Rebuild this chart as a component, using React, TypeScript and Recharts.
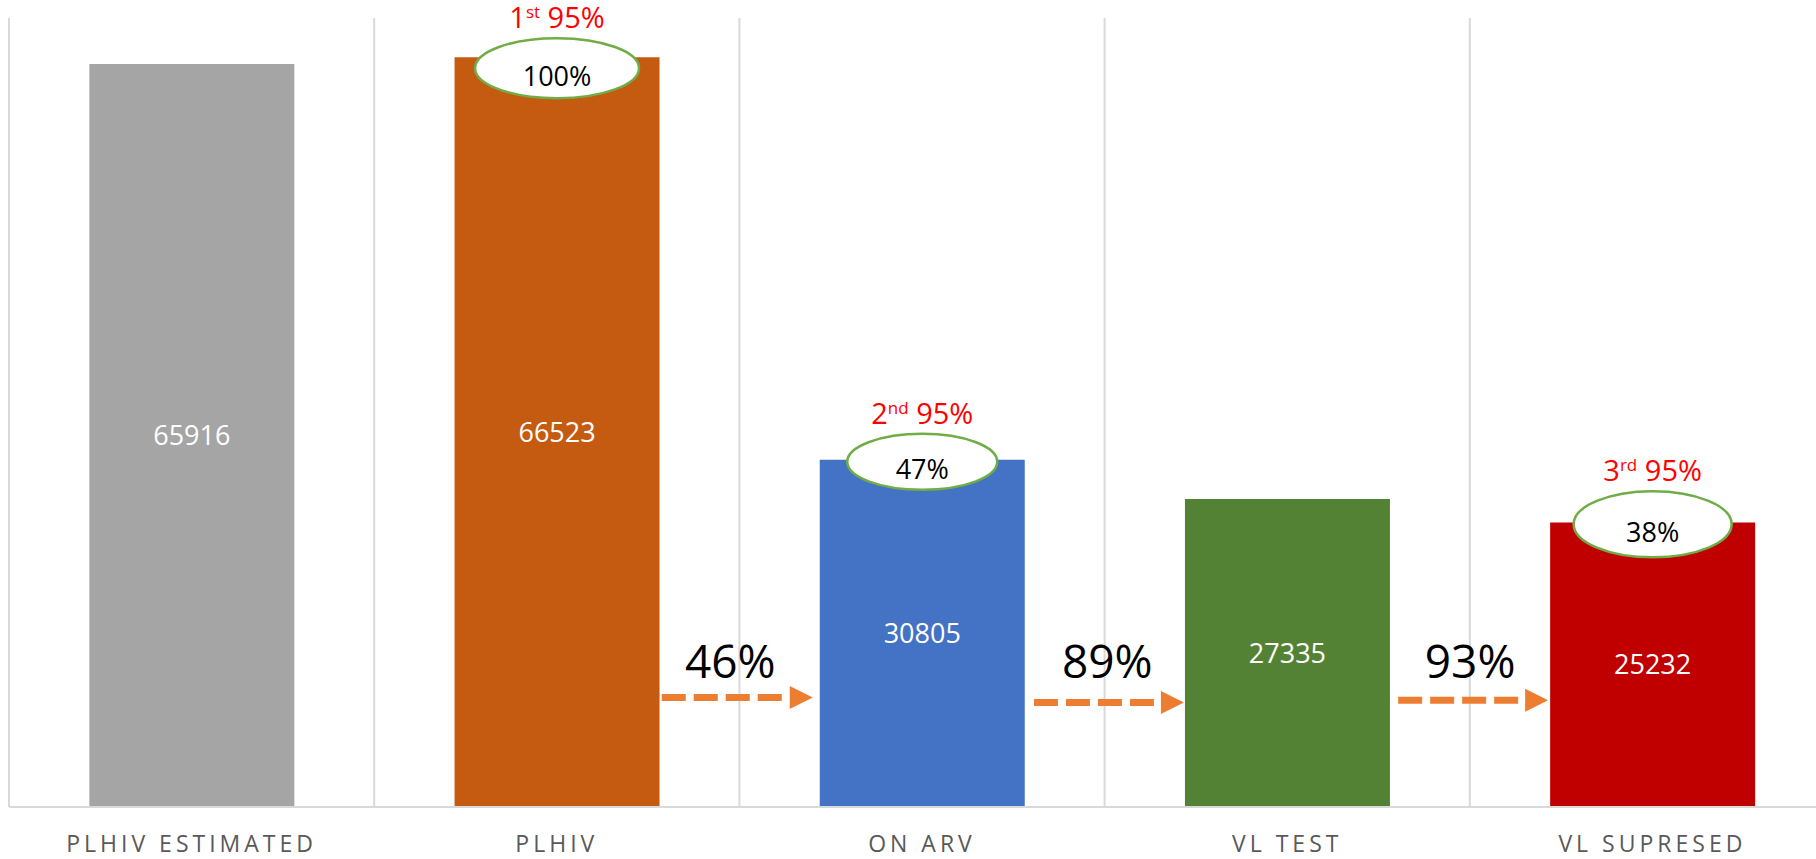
import React from 'react';
import { BarChart, Bar, XAxis, YAxis, CartesianGrid, Cell, LabelList } from 'recharts';

const categories = ['PLHIV ESTIMATED', 'PLHIV', 'ON ARV', 'VL TEST', 'VL SUPRESED'];
const counts = [65916, 66523, 30805, 27335, 25232];
const coverage = ['', '100%', '47%', '', '38%'];
const targetNumber = ['', '1', '2', '', '3'];
const targetSuffix = ['', 'st', 'nd', '', 'rd'];
const stepRates = ['', '', '46%', '89%', '93%'];
const yTicks = [0, 70000];

// styling per bar (colours, annotation placement)
const barColors = ['#A5A5A5', '#C55A11', '#4472C4', '#548235', '#C00000'];
const ellipseDy = [0, 11, 2, 0, 1.6];
const ellipseRx = [0, 82, 75, 0, 79];
const ellipseRy = [0, 30, 28, 0, 33];
const arrowTipDx = [0, 0, -7, -1, -2];
const arrowLen = [0, 0, 151, 150, 150];
const arrowRise = [0, 0, 109.5, 104.5, 106.8];
const stepTextDx = [0, 0, -89.5, -77.6, -80];
const FONT = '"Open Sans", sans-serif';

const data = categories.map((name, i) => ({
  name,
  value: counts[i],
  coverage: coverage[i],
  target: targetNumber[i] ? `${targetNumber[i]}|${targetSuffix[i]}` : '',
  step: stepRates[i],
}));

const box = (props: any) => {
  const vb = props.viewBox || {};
  return {
    x: Number(props.x ?? vb.x),
    y: Number(props.y ?? vb.y),
    width: Number(props.width ?? vb.width),
    height: Number(props.height ?? vb.height),
  };
};

const CoverageLabel = (props: any) => {
  if (!props.value) return null;
  const i = coverage.indexOf(props.value);
  const { x, y, width } = box(props);
  const cx = x + width / 2;
  const cy = y + ellipseDy[i];
  return (
    <g>
      <ellipse cx={cx} cy={cy} rx={ellipseRx[i]} ry={ellipseRy[i]} fill="#fff" stroke="#70AD47" strokeWidth={2.5} />
      <text x={cx} y={cy + 7} textAnchor="middle" dominantBaseline="central" fontSize={27} fontFamily={FONT} fill="#000">
        {props.value}
      </text>
    </g>
  );
};

const TargetLabel = (props: any) => {
  if (!props.value) return null;
  const i = data.findIndex((d) => d.target === props.value);
  const { x, y, width } = box(props);
  const [num, suffix] = String(props.value).split('|');
  const center = y + ellipseDy[i] - ellipseRy[i] - 20;
  return (
    <text x={x + width / 2} y={center + 10} textAnchor="middle" fontSize={29} fontFamily={FONT} fill="#FF0000">
      <tspan>{num}</tspan>
      <tspan dy={-10} fontSize={17}>{suffix}</tspan>
      <tspan dy={10}>{' 95%'}</tspan>
    </text>
  );
};

const StepArrow = (props: any) => {
  if (!props.value) return null;
  const i = stepRates.indexOf(props.value);
  const { x, y, height } = box(props);
  const bottom = y + height;
  const tip = x + arrowTipDx[i];
  const start = tip - arrowLen[i];
  const headBase = tip - 23;
  const ay = bottom - arrowRise[i];
  return (
    <g>
      <text x={x + stepTextDx[i]} y={bottom - 147} textAnchor="middle" dominantBaseline="central" fontSize={46} fontFamily={FONT} fill="#000">
        {props.value}
      </text>
      <line x1={start} y1={ay} x2={headBase} y2={ay} stroke="#ED7D31" strokeWidth={7} strokeDasharray="24 8" />
      <polygon points={`${headBase},${ay - 11.5} ${tip},${ay} ${headBase},${ay + 11.5}`} fill="#ED7D31" />
    </g>
  );
};

const CategoryTick = (props: any) => {
  const { x, y, payload } = props;
  return (
    <text x={x} y={y + 28} textAnchor="middle" dominantBaseline="central" fontSize={23} letterSpacing={4} fontFamily={FONT} fill="#595959">
      {payload.value}
    </text>
  );
};

export default function App() {
  return (
    <div style={{ position: 'fixed', left: 0, top: 0, width: 1816, height: 859, overflow: 'hidden', background: '#fff' }}>
      <BarChart width={1835} height={859} data={data} margin={{ top: 18, right: 0, left: 9, bottom: 1 }} barCategoryGap="22%">
        <CartesianGrid
          horizontal={false}
          stroke="#D9D9D9"
          strokeWidth={2}
          verticalCoordinatesGenerator={({ offset }: any) => {
            const left = offset?.left ?? 9;
            const w = offset?.width ?? 1826;
            return categories.map((_, i) => left + (i * w) / categories.length);
          }}
        />
        <XAxis
          dataKey="name"
          interval={0}
          height={51}
          tickLine={false}
          axisLine={{ stroke: '#D9D9D9', strokeWidth: 2 }}
          tick={<CategoryTick />}
        />
        <YAxis hide domain={[yTicks[0], yTicks[1]]} />
        <Bar dataKey="value" isAnimationActive={false}>
          {data.map((d, i) => (
            <Cell key={d.name} fill={barColors[i]} />
          ))}
          <LabelList dataKey="value" position="center" fill="#fff" fontSize={27} fontFamily={FONT} />
          <LabelList dataKey="step" content={<StepArrow />} />
          <LabelList dataKey="coverage" content={<CoverageLabel />} />
          <LabelList dataKey="target" content={<TargetLabel />} />
        </Bar>
      </BarChart>
    </div>
  );
}
